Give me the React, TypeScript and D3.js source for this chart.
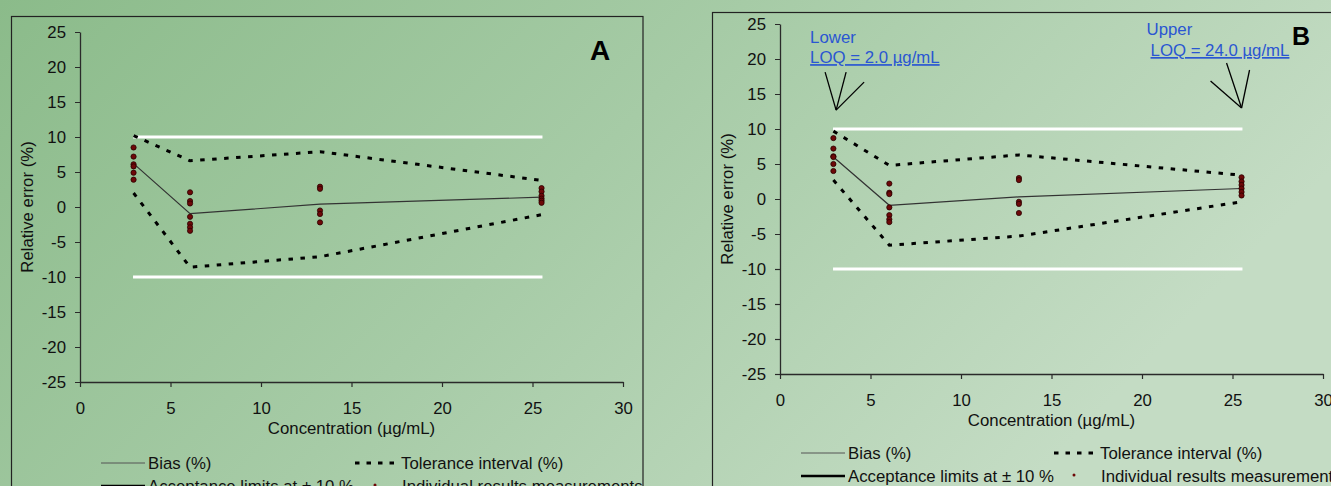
import React, { useRef, useEffect } from 'react';
import * as d3 from 'd3';

// ---- data ----
const yTicks = [-25, -20, -15, -10, -5, 0, 5, 10, 15, 20, 25];
const xTicks = [0, 5, 10, 15, 20, 25, 30];
const acceptLimits = [-10, 10];
const acceptRange = [2.93, 25.55];

const concA = [2.96, 6.08, 13.26, 25.5];
const biasA = [6.2, -0.95, 0.4, 1.4];
const upperTolA = [10.2, 6.6, 7.9, 3.8];
const lowerTolA = [2.0, -8.6, -7.1, -1.1];
const resultsA = [
  [8.5, 7.2, 6.1, 5.8, 4.9, 3.9],
  [2.1, 0.85, 0.5, -1.4, -2.4, -2.9, -3.4],
  [2.9, 2.6, -0.5, -1.0, -2.2],
  [2.7, 2.2, 1.6, 1.2, 0.9, 0.6],
];

const concB = [2.95, 6.04, 13.2, 25.5];
const biasB = [6.0, -0.9, 0.3, 1.5];
const upperTolB = [9.7, 4.8, 6.3, 3.4];
const lowerTolB = [2.7, -6.6, -5.3, -0.4];
const resultsB = [
  [8.7, 7.2, 6.1, 6.0, 5.0, 4.0],
  [2.2, 0.9, 0.7, -1.2, -2.3, -2.9, -3.3],
  [3.0, 2.7, -0.4, -0.7, -2.0],
  [3.1, 2.5, 2.0, 1.5, 1.0, 0.5],
];

const legendLabels = ['Bias (%)', 'Tolerance interval (%)', 'Acceptance limits at \u00b1 10 %', 'Individual results measurements'];

const FONT = '"Liberation Sans", Arial, sans-serif';
const FS = 16.8;

const panels = [
  {
    id: 'A', conc: concA, bias: biasA, upper: upperTolA, lower: lowerTolA, results: resultsA,
    frame: { x: 11.5, y: 16.5, w: 631.5, h: 520 },
    xr: [80, 623], yr: [382, 32],
    tag: { x: 590, y: 60, size: 28 },
    legend: { x: 101, y1: 467, y2: 490, x2: 355 },
    annotations: [],
  },
  {
    id: 'B', conc: concB, bias: biasB, upper: upperTolB, lower: lowerTolB, results: resultsB,
    frame: { x: 712.5, y: 12.5, w: 700, h: 520 },
    xr: [780, 1323], yr: [374, 24],
    tag: { x: 1292, y: 45, size: 25 },
    legend: { x: 801, y1: 457, y2: 480, x2: 1054 },
    annotations: [
      { at: [3.1, 12.7], lines: ['Lower', 'LOQ = 2.0 \u00b5g/mL'], text: [[-26, -67], [-26, -47]],
        arrows: [[-11, -38], [10, -38], [28, -28]] },
      { at: [25.5, 13.0], lines: ['Upper', 'LOQ = 24.0 \u00b5g/mL'], text: [[-95, -73], [-91, -52]],
        arrows: [[-15, -45], [8, -38], [-31, -27]] },
    ],
  },
];

const App = () => {
  const ref = useRef<SVGSVGElement>(null);

  useEffect(() => {
    const svg = d3.select(ref.current);
    svg.selectAll('*').remove();

    const defs = svg.append('defs');
    const grad = defs.append('linearGradient').attr('id', 'bg')
      .attr('x1', 0).attr('y1', 0).attr('x2', 1).attr('y2', 0.35);
    grad.append('stop').attr('offset', '0%').attr('stop-color', '#8bbb8a');
    grad.append('stop').attr('offset', '50%').attr('stop-color', '#a6cba6');
    grad.append('stop').attr('offset', '100%').attr('stop-color', '#c4dcc4');

    svg.append('rect').attr('width', 1331).attr('height', 486).attr('fill', 'url(#bg)');

    panels.forEach(p => {
      const clipId = 'clip' + p.id;
      defs.append('clipPath').attr('id', clipId)
        .append('rect').attr('x', p.frame.x).attr('y', p.frame.y).attr('width', p.frame.w).attr('height', p.frame.h);

      const g = svg.append('g').attr('clip-path', `url(#${clipId})`)
        .style('font-family', FONT);

      const x = d3.scaleLinear().domain([0, 30]).range(p.xr);
      const y = d3.scaleLinear().domain([-25, 25]).range(p.yr);

      // axes (plain hyphen for negatives, as in the original)
      const yAxis = g.append('g').attr('transform', `translate(${p.xr[0]},0)`)
        .call(d3.axisLeft(y).tickValues(yTicks).tickFormat(d => String(d))
          .tickSize(5).tickSizeOuter(0).tickPadding(9));
      const xAxis = g.append('g').attr('transform', `translate(0,${p.yr[0]})`)
        .call(d3.axisBottom(x).tickValues(xTicks).tickFormat(d => String(d))
          .tickSize(5).tickSizeOuter(0).tickPadding(15));
      [yAxis, xAxis].forEach(a => {
        a.selectAll('path').attr('stroke', '#2a2a2a').attr('stroke-width', 1.3);
        a.selectAll('line').attr('stroke', '#2a2a2a').attr('stroke-width', 1.2);
        a.selectAll('text').attr('fill', '#111').style('font-size', FS + 'px').style('font-family', FONT);
      });

      g.append('text')
        .attr('x', x(15)).attr('y', p.yr[0] + 52)
        .attr('text-anchor', 'middle').attr('font-size', FS).attr('fill', '#111')
        .text('Concentration (\u00b5g/mL)');
      g.append('text')
        .attr('transform', `translate(${p.xr[0] - 47},${(p.yr[0] + p.yr[1]) / 2}) rotate(-90)`)
        .attr('text-anchor', 'middle').attr('font-size', FS).attr('fill', '#111')
        .text('Relative error (%)');

      // acceptance limits
      g.selectAll('.accept').data(acceptLimits).enter().append('line')
        .attr('x1', x(acceptRange[0])).attr('x2', x(acceptRange[1]))
        .attr('y1', d => y(d)).attr('y2', d => y(d))
        .attr('stroke', '#fff').attr('stroke-width', 3.2);

      const pts = (vals: number[]) => vals.map((v, i) => [p.conc[i], v] as [number, number]);
      const line = d3.line<[number, number]>().x(d => x(d[0])).y(d => y(d[1]));

      [p.upper, p.lower].forEach(tol => {
        g.append('path').attr('d', line(pts(tol)))
          .attr('fill', 'none').attr('stroke', '#000').attr('stroke-width', 3)
          .attr('stroke-dasharray', '4.5 7.5');
      });

      g.append('path').attr('d', line(pts(p.bias)))
        .attr('fill', 'none').attr('stroke', '#333').attr('stroke-width', 1.2);

      const dots = p.results.flatMap((vals, i) => vals.map(v => [p.conc[i], v]));
      g.selectAll('.dot').data(dots).enter().append('circle')
        .attr('cx', d => x(d[0])).attr('cy', d => y(d[1])).attr('r', 2.6)
        .attr('fill', '#6e0808').attr('stroke', '#2a0000').attr('stroke-width', 0.8);

      // panel tag
      g.append('text').attr('x', p.tag.x).attr('y', p.tag.y)
        .attr('font-size', p.tag.size).attr('font-weight', 'bold').attr('fill', '#000')
        .text(p.id);

      // annotations
      p.annotations.forEach(a => {
        const tx = x(a.at[0]);
        const ty = y(a.at[1]);
        a.arrows.forEach(o => {
          g.append('line').attr('x1', tx + o[0]).attr('y1', ty + o[1]).attr('x2', tx).attr('y2', ty)
            .attr('stroke', '#000').attr('stroke-width', 1.3);
        });
        a.lines.forEach((t, i) => {
          const txt = g.append('text').attr('x', tx + a.text[i][0]).attr('y', ty + a.text[i][1])
            .attr('font-size', FS).attr('fill', '#2a56d2').text(t);
          if (i === 1) txt.attr('text-decoration', 'underline');
        });
      });

      // legend
      const L = p.legend;
      g.append('line').attr('x1', L.x).attr('x2', L.x + 44).attr('y1', L.y1 - 4).attr('y2', L.y1 - 4)
        .attr('stroke', '#555').attr('stroke-width', 1);
      g.append('line').attr('x1', L.x2).attr('x2', L.x2 + 44).attr('y1', L.y1 - 4).attr('y2', L.y1 - 4)
        .attr('stroke', '#000').attr('stroke-width', 3).attr('stroke-dasharray', '4.5 7');
      g.append('line').attr('x1', L.x).attr('x2', L.x + 44).attr('y1', L.y2 - 4).attr('y2', L.y2 - 4)
        .attr('stroke', '#000').attr('stroke-width', 2.4);
      g.append('circle').attr('cx', L.x2 + 20).attr('cy', L.y2 - 5).attr('r', 1.5).attr('fill', '#6e0808');
      const lx = [L.x + 47, L.x2 + 46, L.x + 47, L.x2 + 47];
      const ly = [L.y1, L.y1, L.y2, L.y2];
      legendLabels.forEach((t, i) => {
        g.append('text').attr('x', lx[i]).attr('y', ly[i] + 2)
          .attr('font-size', FS).attr('fill', '#111').text(t);
      });

      // frame
      svg.append('rect').attr('x', p.frame.x).attr('y', p.frame.y)
        .attr('width', p.frame.w).attr('height', p.frame.h)
        .attr('fill', 'none').attr('stroke', '#222').attr('stroke-width', 1.2);
    });
  }, []);

  return (
    <svg ref={ref} width={1331} height={486}
      style={{ position: 'absolute', left: 0, top: 0, display: 'block' }} />
  );
};

export default App;
